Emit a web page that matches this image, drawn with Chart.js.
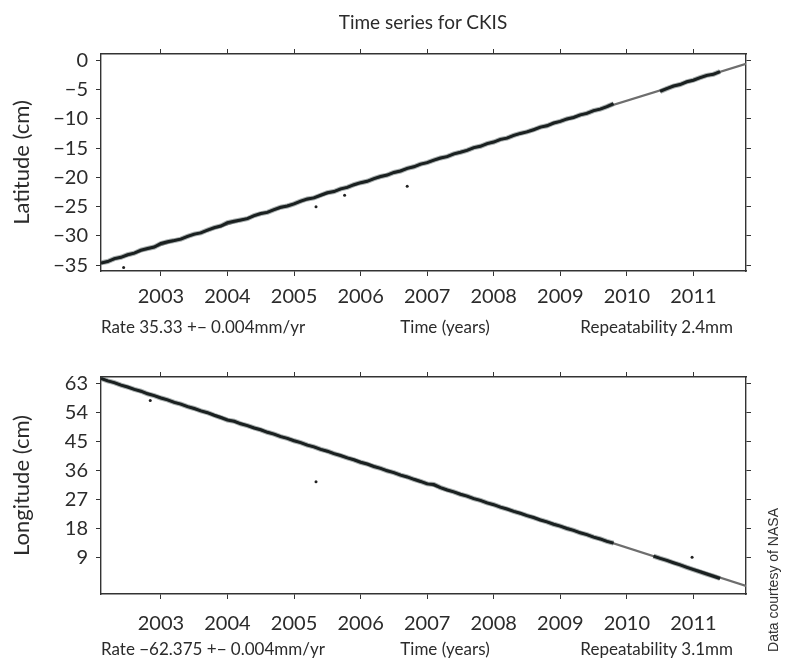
<!DOCTYPE html>
<html>
<head>
<meta charset="utf-8">
<script src="https://cdn.jsdelivr.net/npm/chart.js@4.4.0/dist/chart.umd.min.js"></script>
<style>
  html, body { margin: 0; padding: 0; background: #fff; }
  #wrap { position: relative; width: 788px; height: 660px; font-family: Lato, sans-serif; color: #2b2b2b; }
  #wrap canvas { position: absolute; left: 0; }
  .txt { position: absolute; white-space: nowrap; font-size: 17px; line-height: 20px; }
</style>
</head>
<body>
<div id="wrap">
  <canvas id="latChart" width="788" height="340" style="top:0"></canvas>
  <canvas id="lonChart" width="788" height="320" style="top:340px"></canvas>

  <div class="txt" style="left:273px;width:300px;top:11px;text-align:center;font-size:19px;line-height:22px">Time series for CKIS</div>

  <div class="txt" style="left:101px;top:317px">Rate 35.33 +− 0.004mm/yr</div>
  <div class="txt" style="left:385px;width:120px;top:317px;text-align:center">Time (years)</div>
  <div class="txt" style="right:55px;top:317px">Repeatability 2.4mm</div>

  <div class="txt" style="left:101px;top:639px">Rate −62.375 +− 0.004mm/yr</div>
  <div class="txt" style="left:385px;width:120px;top:639px;text-align:center">Time (years)</div>
  <div class="txt" style="right:55px;top:639px">Repeatability 3.1mm</div>

  <div class="txt" style="left:693px;top:572px;width:160px;height:16px;line-height:16px;text-align:center;font-family:'Liberation Sans',Arial,sans-serif;font-size:14px;color:#333;transform:rotate(-90deg)">Data courtesy of NASA</div>
</div>

<script>
// 축 범위
const xMin = 2002.1;
const xMax = 2011.79;
const yearTicks = [2003, 2004, 2005, 2006, 2007, 2008, 2009, 2010, 2011];
const latTicks = [-35, -30, -25, -20, -15, -10, -5, 0];
const lonTicks = [9, 18, 27, 36, 45, 54, 63];

// 위도 시계열 (cm), 그림에서 읽은 값 (null = 자료 없음)
const latYears = [
  2002.1, 2002.2, 2002.3, 2002.4, 2002.5, 2002.6, 2002.7, 2002.8, 2002.9,
  2003.0, 2003.1, 2003.2, 2003.3, 2003.4, 2003.5, 2003.6, 2003.7, 2003.8, 2003.9,
  2004.0, 2004.1, 2004.2, 2004.3, 2004.4, 2004.5, 2004.6, 2004.7, 2004.8, 2004.9,
  2005.0, 2005.1, 2005.2, 2005.3, 2005.4, 2005.5, 2005.6, 2005.7, 2005.8, 2005.9,
  2006.0, 2006.1, 2006.2, 2006.3, 2006.4, 2006.5, 2006.6, 2006.7, 2006.8, 2006.9,
  2007.0, 2007.1, 2007.2, 2007.3, 2007.4, 2007.5, 2007.6, 2007.7, 2007.8, 2007.9,
  2008.0, 2008.1, 2008.2, 2008.3, 2008.4, 2008.5, 2008.6, 2008.7, 2008.8, 2008.9,
  2009.0, 2009.1, 2009.2, 2009.3, 2009.4, 2009.5, 2009.6, 2009.7, 2009.8,
  2010.1,
  2010.5, 2010.6, 2010.7, 2010.8, 2010.9, 2011.0, 2011.1, 2011.2, 2011.3, 2011.4
];
const latValues = [
  -34.62, -34.38, -33.88, -33.66, -33.22, -32.95, -32.42, -32.15, -31.90,
  -31.30, -31.00, -30.80, -30.55, -30.08, -29.70, -29.48, -29.00, -28.58, -28.30,
  -27.72, -27.50, -27.28, -27.05, -26.52, -26.18, -25.98, -25.52, -25.10, -24.88,
  -24.52, -24.05, -23.68, -23.50, -23.05, -22.62, -22.42, -21.95, -21.70, -21.25,
  -20.90, -20.66, -20.20, -19.85, -19.60, -19.15, -18.90, -18.45, -18.18, -17.72,
  -17.48, -17.05, -16.68, -16.45, -15.98, -15.70, -15.38, -14.90, -14.68, -14.22,
  -13.95, -13.50, -13.28, -12.82, -12.48, -12.22, -11.85, -11.40, -11.18, -10.70,
  -10.42, -10.00, -9.75, -9.30, -9.05, -8.58, -8.32, -7.90, -7.40,
  null,
  -5.30, -4.82, -4.38, -4.12, -3.65, -3.38, -2.95, -2.55, -2.38, -1.90
];
const latOutYears = [2002.44, 2005.33, 2005.76, 2006.70];
const latOutValues = [-35.4, -25.0, -23.05, -21.5];
const latFit = [-34.7, -0.59];

// 경도 시계열 (cm)
const lonYears = [
  2002.1, 2002.2, 2002.3, 2002.4, 2002.5, 2002.6, 2002.7, 2002.8, 2002.9,
  2003.0, 2003.1, 2003.2, 2003.3, 2003.4, 2003.5, 2003.6, 2003.7, 2003.8, 2003.9,
  2004.0, 2004.1, 2004.2, 2004.3, 2004.4, 2004.5, 2004.6, 2004.7, 2004.8, 2004.9,
  2005.0, 2005.1, 2005.2, 2005.3, 2005.4, 2005.5, 2005.6, 2005.7, 2005.8, 2005.9,
  2006.0, 2006.1, 2006.2, 2006.3, 2006.4, 2006.5, 2006.6, 2006.7, 2006.8, 2006.9,
  2007.0, 2007.1, 2007.2, 2007.3, 2007.4, 2007.5, 2007.6, 2007.7, 2007.8, 2007.9,
  2008.0, 2008.1, 2008.2, 2008.3, 2008.4, 2008.5, 2008.6, 2008.7, 2008.8, 2008.9,
  2009.0, 2009.1, 2009.2, 2009.3, 2009.4, 2009.5, 2009.6, 2009.7, 2009.8,
  2010.1,
  2010.4, 2010.5, 2010.6, 2010.7, 2010.8, 2010.9, 2011.0, 2011.1, 2011.2, 2011.3, 2011.4
];
const lonValues = [
  64.45, 63.70, 63.15, 62.38, 61.80, 61.05, 60.50, 59.70, 59.12,
  58.40, 57.82, 57.05, 56.50, 55.72, 55.15, 54.40, 53.85, 53.05, 52.35,
  51.55, 51.20, 50.40, 49.85, 49.12, 48.55, 47.78, 47.22, 46.45, 45.88,
  45.15, 44.58, 43.80, 43.25, 42.48, 41.92, 41.15, 40.58, 39.85, 39.26,
  38.50, 37.95, 37.18, 36.62, 35.85, 35.30, 34.52, 33.95, 33.22, 32.55,
  31.80, 31.60, 30.65, 29.92, 29.32, 28.58, 28.00, 27.25, 26.68, 25.92,
  25.35, 24.60, 24.02, 23.28, 22.70, 21.95, 21.38, 20.62, 20.05, 19.30,
  18.72, 17.98, 17.40, 16.65, 16.08, 15.32, 14.75, 14.00, 13.45,
  null,
  9.45, 8.72, 8.10, 7.38, 6.70, 5.95, 5.25, 4.58, 3.88, 3.20, 2.50
];
const lonOutYears = [2002.84, 2005.33, 2010.98];
const lonOutValues = [57.6, 32.5, 9.1];
const lonFit = [64.4, 0.2];

const fitYears = [xMin, xMax];

const inkColor = '#2b2b2b';
const frameColor = '#333333';

function toPoints(xs, ys) {
    return xs.map((x, i) => ({ x: x, y: ys[i] }));
}

function minusLabel(v) {
    return v < 0 ? '\u2212' + Math.abs(v) : String(v);
}

// 공통 차트 생성
function makeChart(id, cfg) {
    const tickMarks = { drawOnChartArea: false, drawTicks: true, tickLength: 5, color: frameColor, lineWidth: 1 };
    const frame = { display: true, color: frameColor, width: 1.4 };
    const tickFont = { family: 'Lato', size: 20 };
    const setYears = s => { s.ticks = yearTicks.map(v => ({ value: v })); };
    const setY = s => { s.ticks = cfg.yTicks.map(v => ({ value: v })); };

    return new Chart(document.getElementById(id), {
        type: 'line',
        data: {
            datasets: [
                {
                    data: toPoints(fitYears, cfg.fit),
                    borderColor: '#6e6e6e', borderWidth: 2.2,
                    pointRadius: 0, order: 4, clip: 0
                },
                {
                    data: toPoints(cfg.years, cfg.values),
                    borderColor: 'rgba(100,112,112,0.55)', borderWidth: 5,
                    pointRadius: 0, order: 3, clip: 0, spanGaps: false
                },
                {
                    data: toPoints(cfg.years, cfg.values),
                    borderColor: '#1a2020', borderWidth: 3,
                    pointRadius: 0, order: 2, clip: 0, spanGaps: false
                },
                {
                    data: toPoints(cfg.outYears, cfg.outValues),
                    showLine: false,
                    pointRadius: 1.5, pointBackgroundColor: '#222', pointBorderWidth: 0,
                    order: 1, clip: 0
                }
            ]
        },
        options: {
            responsive: false,
            animation: false,
            events: [],
            layout: { padding: 0 },
            plugins: { legend: { display: false }, tooltip: { enabled: false } },
            elements: { line: { tension: 0 } },
            scales: {
                x: {
                    type: 'linear', position: 'bottom', min: xMin, max: xMax,
                    afterBuildTicks: setYears,
                    afterFit: s => { s.height = cfg.bottomH; },
                    grid: tickMarks, border: frame,
                    ticks: { color: inkColor, font: tickFont, padding: cfg.xPad, maxRotation: 0, autoSkip: false, callback: v => String(v) }
                },
                xTop: {
                    type: 'linear', position: 'top', min: xMin, max: xMax,
                    afterBuildTicks: setYears,
                    afterFit: s => { s.height = cfg.topH; },
                    grid: tickMarks, border: frame,
                    ticks: { display: false }
                },
                y: {
                    type: 'linear', position: 'left', min: cfg.yMin, max: cfg.yMax,
                    afterBuildTicks: setY,
                    afterFit: s => { s.width = 101; },
                    grid: tickMarks, border: frame,
                    title: { display: true, text: cfg.yTitle, color: inkColor, font: { family: 'Lato', size: 22 }, padding: { top: 9, bottom: 0 } },
                    ticks: { color: inkColor, font: tickFont, padding: 8, autoSkip: false, callback: minusLabel }
                },
                yRight: {
                    type: 'linear', position: 'right', min: cfg.yMin, max: cfg.yMax,
                    afterBuildTicks: setY,
                    afterFit: s => { s.width = 42; },
                    grid: tickMarks, border: frame,
                    ticks: { display: false }
                }
            }
        }
    });
}

makeChart('latChart', {
    years: latYears, values: latValues,
    outYears: latOutYears, outValues: latOutValues, fit: latFit,
    yMin: -36, yMax: 1.1, yTicks: latTicks, yTitle: 'Latitude (cm)',
    topH: 54, bottomH: 69, xPad: 9
});

makeChart('lonChart', {
    years: lonYears, values: lonValues,
    outYears: lonOutYears, outValues: lonOutValues, fit: lonFit,
    yMin: -2.3, yMax: 64.9, yTicks: lonTicks, yTitle: 'Longitude (cm)',
    topH: 37, bottomH: 66, xPad: 13
});
</script>
</body>
</html>
